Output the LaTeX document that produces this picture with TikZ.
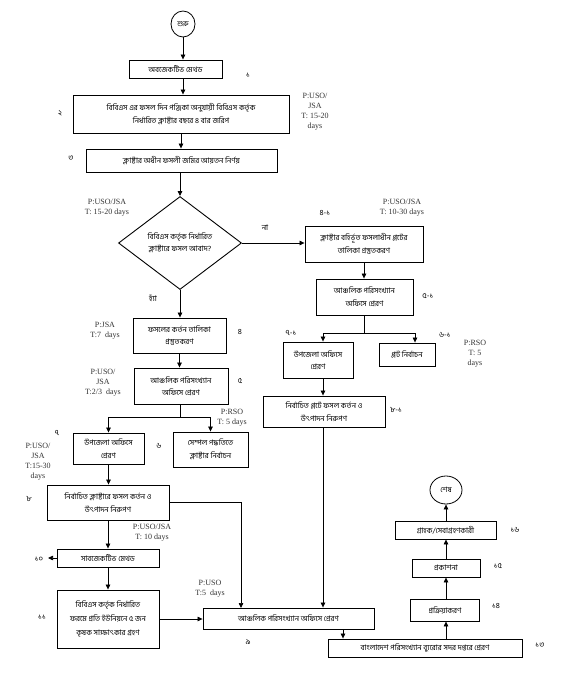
\documentclass[tikz,border=0pt]{standalone}
\usepackage{fontspec}
\setmainfont{Liberation Serif}
\newfontfamily\bn[Script=Bengali]{Hind Siliguri}
\usetikzlibrary{arrows.meta,shapes.geometric}
\begin{document}
\begin{tikzpicture}[x=1pt,y=-1pt,
  box/.style={draw, line width=0.9pt, inner sep=0pt, align=center, font=\bn\fontsize{7.6}{12.5}\selectfont},
  term/.style={draw, line width=0.8pt, ellipse, inner sep=0pt, font=\bn\fontsize{7.4}{8}\selectfont},
  num/.style={font=\bn\fontsize{7.8}{8}\selectfont, inner sep=0pt},
  info/.style={font=\fontsize{8}{10}\selectfont, align=center, inner sep=0pt, text=black!80},
  arr/.style={line width=0.7pt, -{Triangle[length=5pt,width=4.5pt]}},
  ln/.style={line width=0.7pt}]
\useasboundingbox (0,0) rectangle (566,677);
% nodes
\node[term, minimum width=24, minimum height=26] (start) at (183,24) {শুরু};
\node[box, minimum width=93, minimum height=18] (b1) at (175.5,69) {অবজেকটিভ মেথড};
\node[box, minimum width=216, minimum height=38] (b2) at (181,114) {বিবিএস এর ফসল দিন পঞ্জিকা অনুযায়ী বিবিএস কর্তৃক\\নির্ধারিত ক্লাষ্টার বছরে ৪ বার জরিপ};
\node[box, minimum width=191, minimum height=23] (b3) at (181.5,160.5) {ক্লাষ্টার অধীন ফসলী জমির আয়তন নির্ণয়};
\node[box, diamond, aspect=1.32, minimum width=123, minimum height=93] (dia) at (180,243) {বিবিএস কর্তৃক নির্ধারিত\\ক্লাষ্টারে ফসল আবাদ?};
\node[box, minimum width=118, minimum height=36] (b41) at (364,244) {ক্লাষ্টার বহির্ভূত ফসলাধীন প্লটের\\তালিকা প্রস্তুতকরণ};
\node[box, minimum width=97, minimum height=36] (b51) at (364.5,297) {আঞ্চলিক পরিসংখ্যান\\অফিসে প্রেরণ};
\node[box, minimum width=70, minimum height=36] (b71) at (318,360) {উপজেলা অফিসে\\প্রেরণ};
\node[box, minimum width=56, minimum height=23] (b61) at (407,354.5) {প্লট নির্বাচন};
\node[box, minimum width=122, minimum height=31] (b81) at (324,411.5) {নির্বাচিত প্লটে ফসল কর্তন ও\\উৎপাদন নিরুপণ};
\node[box, minimum width=93, minimum height=35] (b4) at (179.5,335.5) {ফসলের কর্তন তালিকা\\প্রস্তুতকরণ};
\node[box, minimum width=94, minimum height=36] (b5) at (181,386) {আঞ্চলিক পরিসংখ্যান\\অফিসে প্রেরণ};
\node[box, minimum width=71, minimum height=31] (b7) at (108.5,448.5) {উপজেলা অফিসে\\প্রেরণ};
\node[box, minimum width=75, minimum height=35] (b6) at (210.5,449.5) {সেম্পল পদ্ধতিতে\\ক্লাষ্টার নির্বাচন};
\node[box, minimum width=122, minimum height=35] (b8) at (108,502.5) {নির্বাচিত ক্লাষ্টারে ফসল কর্তন ও\\উৎপাদন নিরুপণ};
\node[box, minimum width=102, minimum height=18] (b10) at (108,558) {সাবজেকটিভ মেথড};
\node[box, minimum width=102, minimum height=58, font=\bn\fontsize{7.6}{14}\selectfont] (b11) at (108,619) {বিবিএস কর্তৃক নির্ধারিত\\ফরমে প্রতি ইউনিয়নে ৫ জন\\কৃষক সাক্ষাৎকার গ্রহণ};
\node[box, minimum width=171, minimum height=21] (b9) at (288.5,618.5) {আঞ্চলিক পরিসংখ্যান অফিসে প্রেরণ};
\node[box, minimum width=194, minimum height=18] (b13) at (425,648) {বাংলাদেশ পরিসংখ্যান ব্যুরোর সদর দপ্তরে প্রেরণ};
\node[box, minimum width=69, minimum height=22] (b14) at (445,610) {প্রক্রিয়াকরণ};
\node[box, minimum width=68, minimum height=18] (b15) at (446,568) {প্রকাশনা};
\node[box, minimum width=101, minimum height=18] (b16) at (445.5,530) {গ্রাহক/সেবাগ্রহণকারী};
\node[term, minimum width=32, minimum height=28] (end) at (446,490) {শেষ};
% step numbers
\node[num] (n1) at (248,75) {১};
\node[num] (n2) at (60,113) {২};
\node[num] (n3) at (71,158) {৩};
\node[num] (n41) at (325,213) {৪-১};
\node[num] (n51) at (428,296) {৫-১};
\node[num] (n71) at (291,333) {৭-১};
\node[num] (n61) at (445,335) {৬-১};
\node[num] (n81) at (396,410) {৮-১};
\node[num] (n4) at (240,332) {৪};
\node[num] (n5) at (240,381) {৫};
\node[num] (n7) at (57,433) {৭};
\node[num] (n6) at (159,446) {৬};
\node[num] (n8) at (29,499) {৮};
\node[num] (n10) at (39,559) {১০};
\node[num] (n11) at (42,617) {১১};
\node[num] (n9) at (248,642) {৯};
\node[num] (n13) at (540,645) {১৩};
\node[num] (n14) at (496,606) {১৪};
\node[num] (n15) at (498,566) {১৫};
\node[num] (n16) at (515,530) {১৬};
\node[num] (no) at (265,228) {না};
\node[num] (yes) at (153,298) {হ্যাঁ};
% info labels
\node[info] (i2) at (315,112) {P:USO/\\JSA\\T: 15-20\\days};
\node[info] (idia) at (107,208) {P:USO/JSA\\T: 15-20 days};
\node[info] (i41) at (402,208) {P:USO/JSA\\T: 10-30 days};
\node[info] (i4) at (105,331) {P:JSA\\T:7~ days};
\node[info] (i5) at (103,383) {P:USO/\\JSA\\T:2/3~ days};
\node[info] (i6) at (232,418) {P:RSO\\T: 5 days};
\node[info] (i61) at (475,354) {P:RSO\\T: 5\\days};
\node[info] (i7) at (38,462) {P:USO/\\JSA\\T:15-30\\days};
\node[info] (i10) at (152,533) {P:USO/JSA\\T: 10 days};
\node[info] (i9) at (210,589) {P:USO\\T:5~ days};
% junction coordinates
\coordinate (s5) at (180,417);
\coordinate (s51) at (364,333);
\coordinate (a71) at (323,333);
\coordinate (a61) at (415,333);
\coordinate (a9l) at (241,608);
\coordinate (a13) at (343,0);
\coordinate (t10) at (48,558);
% connectors
\draw[arr] (start.south) -- (start.south |- b1.north);
\draw[arr] (b1.south -| start.south) -- (b2.north -| start.south);
\draw[arr] (b2.south) -- (b3.north -| b2.south);
\draw[arr] (b3.south -| dia.north) -- (dia.north);
\draw[arr] (dia.east) -- (dia.east -| b41.west);
\draw[arr] (dia.south) -- (dia.south |- b4.north);
\draw[arr] (b4.south) -- (b4.south |- b5.north);
\draw[ln] (b5.south -| s5) -- (s5);
\draw[arr] (s5) -| (b7.north);
\draw[arr] (s5) -| (b6.north);
\draw[arr] (b7.south) -- (b7.south |- b8.north);
\draw[arr] (b8.south) -- (b8.south |- b10.north);
\draw[arr] (b10.west) -- (t10);
\draw[arr] (b10.south) -- (b11.north);
\draw[arr] (b11.east) -- (b11.east -| b9.west);
\draw[arr] (b8.east) -| (a9l);
\draw[arr] (b41.south) -- (b41.south |- b51.north);
\draw[ln] (b51.south -| s51) -- (s51);
\draw[ln] (a71) -- (a61);
\draw[arr] (a71) -- (a71 |- b71.north);
\draw[arr] (a61) -- (a61 |- b61.north);
\draw[arr] (b71.south -| a71) -- (b81.north -| a71);
\draw[arr] (b81.south -| a71) -- (b9.north -| a71);
\draw[arr] (b9.south -| a13) -- (b13.north -| a13);
\draw[arr] (b13.north -| b15.south) -- (b14.south -| b15.south);
\draw[arr] (b14.north -| b15.south) -- (b15.south);
\draw[arr] (b15.north) -- (b16.south -| b15.north);
\draw[arr] (b16.north -| b15.north) -- (end.south);
\end{tikzpicture}
\end{document}
